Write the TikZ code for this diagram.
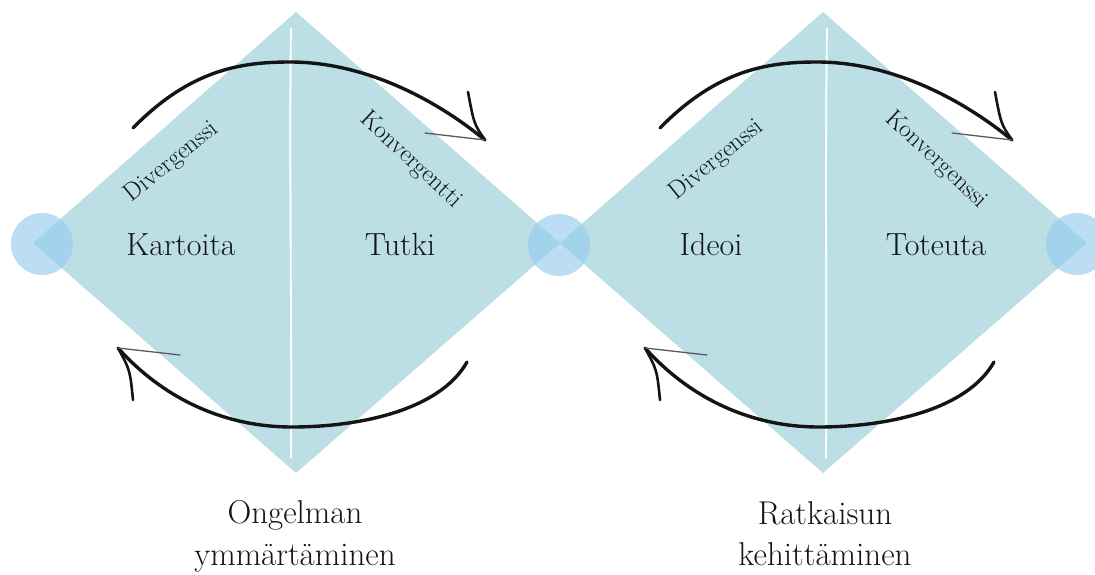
\documentclass[tikz,border=0pt]{standalone}
\definecolor{diamondfill}{RGB}{188,223,230}
\definecolor{dotfill}{RGB}{150,205,240}
\definecolor{ink}{RGB}{20,20,20}
\begin{document}
\begin{tikzpicture}[x=1pt,y=-1pt,
  seam/.style={draw=white,line width=1.8pt},
  dot/.style={circle,fill=dotfill,fill opacity=0.65,minimum size=62pt,inner sep=0pt},
  phase/.style={font=\fontsize{32}{34}\selectfont,text=ink,anchor=base},
  caption/.style={font=\fontsize{33}{36}\selectfont,text=ink,anchor=base},
  mode/.style={font=\fontsize{25}{28}\selectfont,text=ink},
  sweep/.style={draw=ink,line width=3.4pt,line cap=round},
  barb/.style={draw=ink,line width=2.6pt,line cap=round},
  hair/.style={draw=ink!70,line width=1.3pt,line cap=round}]
\useasboundingbox (0,0) rectangle (1095,575);
\clip (0,0) rectangle (1095,575);

% the two diamonds
\coordinate (L1) at (33,243);  \coordinate (T1) at (296,12);
\coordinate (M)  at (560,243); \coordinate (B1) at (296,473);
\coordinate (T2) at (823,12);  \coordinate (R2) at (1087,243);
\coordinate (B2) at (823,473);
\fill[diamondfill] (L1) -- (T1) -- (M) -- (B1) -- cycle;
\fill[diamondfill] (M) -- (T2) -- (R2) -- (B2) -- cycle;

% white seams down the middle
\draw[seam] (291,28) .. controls (289,150) and (292,330) .. (291,458);
\draw[seam] (827,28) .. controls (825,160) and (827,330) .. (826,458);

% round markers at the tips
\node[dot] (c1) at (42,244) {};
\node[dot] (c2) at (559,245) {};
\node[dot] (c3) at (1077,244) {};

% phase names
\node[phase] (kartoita) at (181,255) {Kartoita};
\node[phase] (tutki)    at (400,255) {Tutki};
\node[phase] (ideoi)    at (711,255) {Ideoi};
\node[phase] (toteuta)  at (936,255) {Toteuta};

% modes along the upper edges
\node[mode,rotate=39]  (div1) at (172,162) {Divergenssi};
\node[mode,rotate=-43] (kon1) at (411,160) {Konvergentti};
\node[mode,rotate=39]  (div2) at (717,160) {Divergenssi};
\node[mode,rotate=-43] (kon2) at (936,160) {Konvergenssi};

% captions under the diamonds
\node[caption] (cap1a) at (295,523) {Ongelman};
\node[caption] (cap1b) at (295,565) {ymmärtäminen};
\node[caption] (cap2a) at (825,524) {Ratkaisun};
\node[caption] (cap2b) at (825,565) {kehittäminen};

% hand-drawn circulating arrows, one pair per diamond
\foreach \dx/\k in {0/1,527/2}{
  \begin{scope}[xshift=\dx]
    \coordinate (top\k s) at (133,128);
    \coordinate (top\k e) at (485,140);
    \coordinate (top\k u) at (468,92);
    \coordinate (top\k l) at (425,133);
    \draw[sweep] (top\k s) .. controls (190,70) and (240,62) .. (290,62)
                 .. controls (360,62) and (430,95) .. (top\k e);
    \draw[barb] (top\k e) .. controls (474,124) .. (top\k u);
    \draw[hair] (top\k e) -- (top\k l);

    \coordinate (bot\k s) at (467,362);
    \coordinate (bot\k e) at (118,348);
    \coordinate (bot\k d) at (133,400);
    \coordinate (bot\k r) at (180,355);
    \draw[sweep] (bot\k s) .. controls (440,410) and (360,427) .. (292,427)
                 .. controls (220,427) and (160,395) .. (bot\k e);
    \draw[barb] (bot\k e) .. controls (130,370) .. (bot\k d);
    \draw[hair] (bot\k e) -- (bot\k r);
  \end{scope}
}
\end{tikzpicture}
\end{document}
